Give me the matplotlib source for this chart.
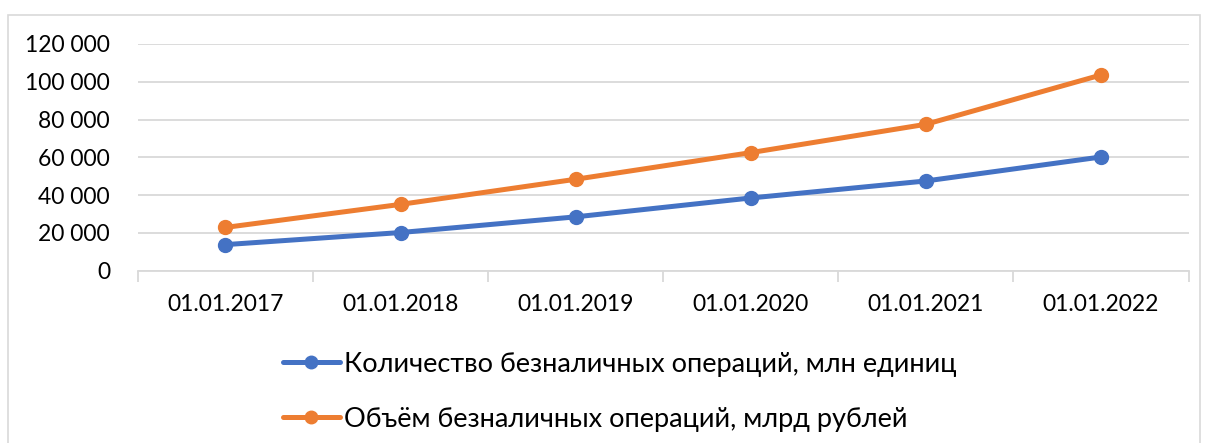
import matplotlib
matplotlib.use("Agg")
import matplotlib.pyplot as plt
from matplotlib.patches import Rectangle
from matplotlib.ticker import FuncFormatter

plt.rcParams['font.family'] = ['Lato', 'DejaVu Sans']

dates = ["01.01.2017", "01.01.2018", "01.01.2019", "01.01.2020", "01.01.2021", "01.01.2022"]
count_ops = [13800, 20200, 28500, 38500, 47500, 60200]      # млн единиц
volume_ops = [22900, 35100, 48400, 62500, 77500, 103600]    # млрд рублей
series_names = ["Количество безналичных операций, млн единиц",
                "Объём безналичных операций, млрд рублей"]
yticks = [0, 20000, 40000, 60000, 80000, 100000, 120000]

BLUE = "#4472C4"
ORANGE = "#ED7D31"
GRID = "#d9d9d9"

fig = plt.figure(figsize=(12.05, 4.43), dpi=100)
ax = fig.add_axes([137.8 / 1205, 1 - 270.7 / 443, (1188.6 - 137.8) / 1205, (270.7 - 44) / 443])

# outer chart border
fig.patches.append(Rectangle((8 / 1205, -0.05), 1192 / 1205, 1.05 - 14.7 / 443,
                             transform=fig.transFigure, fill=False,
                             edgecolor=GRID, linewidth=1.2))

x = range(len(dates))
ax.plot(x, count_ops, color=BLUE, lw=3.6, marker="o", ms=10, label=series_names[0],
        solid_capstyle="round")
ax.plot(x, volume_ops, color=ORANGE, lw=3.6, marker="o", ms=10, label=series_names[1],
        solid_capstyle="round")

ax.set_xlim(-0.5, len(dates) - 0.5)
ax.set_ylim(0, 120000)
ax.set_yticks(yticks)
ax.yaxis.set_major_formatter(FuncFormatter(lambda v, _: f"{int(v):,}".replace(",", " ")))
ax.set_xticks(list(x))
ax.set_xticklabels(dates)
ax.set_xticks([i - 0.5 for i in range(len(dates) + 1)], minor=True)

ax.grid(axis="y", color=GRID, lw=1.3)
ax.set_axisbelow(True)
for s in ["top", "right", "left"]:
    ax.spines[s].set_visible(False)
ax.spines["bottom"].set_color(GRID)
ax.spines["bottom"].set_linewidth(1.3)

ax.tick_params(axis="y", length=0, labelsize=16.5, pad=20)
ax.tick_params(axis="x", which="major", length=0, labelsize=16.5, pad=17)
ax.tick_params(axis="x", which="minor", length=8, color=GRID, width=1.3)

fig.legend(loc="upper left", bbox_to_anchor=(272 / 1205, 1 - 341 / 443), frameon=False,
           fontsize=19.5, handlelength=2.1, handletextpad=0.15, labelspacing=1.1,
           borderaxespad=0, markerscale=0.9)

fig.savefig("out.png", dpi=100)
